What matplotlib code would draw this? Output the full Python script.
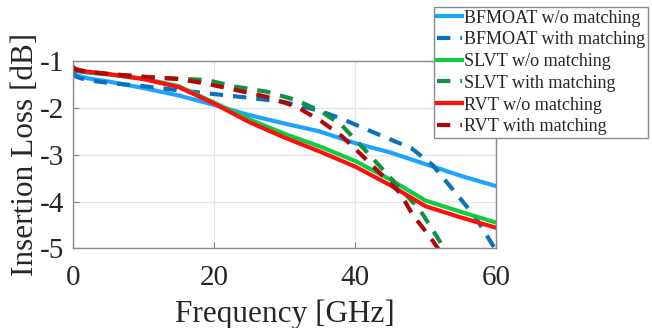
import matplotlib
matplotlib.use("Agg")
import matplotlib.pyplot as plt

plt.rcParams["font.family"] = ["Liberation Serif", "DejaVu Serif"]
plt.rcParams["axes.unicode_minus"] = False

# measured insertion loss, frequency in GHz, loss in dB
bfmoat_wo_f = [0, 0.5, 2, 5, 10, 15, 20, 25, 30, 35, 40, 45, 50, 55, 60]
bfmoat_wo_il = [-1.22, -1.30, -1.36, -1.43, -1.57, -1.73, -1.93, -2.15, -2.33, -2.50,
                -2.75, -2.95, -3.20, -3.45, -3.67]

bfmoat_w_f = [0, 0.5, 2, 5, 10, 15, 20, 25, 30, 35, 38, 42, 45, 48, 51, 54, 57, 60]
bfmoat_w_il = [-1.25, -1.33, -1.40, -1.46, -1.53, -1.62, -1.70, -1.78, -1.87, -2.06,
               -2.22, -2.48, -2.67, -2.86, -3.22, -3.77, -4.32, -5.05]

slvt_wo_f = [0, 0.5, 2, 5, 10, 15, 20, 25, 30, 35, 40, 45, 50, 55, 60]
slvt_wo_il = [-1.15, -1.20, -1.24, -1.28, -1.37, -1.53, -1.88, -2.24, -2.55, -2.82,
              -3.13, -3.53, -3.98, -4.22, -4.45]

slvt_w_f = [0, 0.5, 2, 5, 10, 15, 19, 23, 27.5, 31.7, 35.3, 38.2, 41.2, 43.8, 46.4,
            49.2, 51.6, 53]
slvt_w_il = [-1.15, -1.20, -1.23, -1.27, -1.33, -1.37, -1.40, -1.54, -1.65, -1.83,
             -2.08, -2.38, -2.86, -3.29, -3.72, -4.18, -4.75, -5.1]

rvt_wo_f = [0, 0.5, 2, 5, 10, 15, 20, 25, 30, 35, 40, 45, 50, 55, 60]
rvt_wo_il = [-1.12, -1.17, -1.22, -1.27, -1.38, -1.55, -1.90, -2.30, -2.63, -2.93,
             -3.25, -3.65, -4.10, -4.34, -4.56]

rvt_w_f = [0, 0.5, 2, 5, 10, 15, 18.7, 23, 27.5, 31.7, 35.3, 38.2, 40.9, 43.8, 46.4,
           48.2, 50.6, 52.2]
rvt_w_il = [-1.12, -1.18, -1.22, -1.27, -1.33, -1.38, -1.47, -1.61, -1.76, -1.97,
            -2.29, -2.61, -3.00, -3.43, -3.82, -4.29, -4.75, -5.1]

fig = plt.figure(figsize=(6.52, 3.28), dpi=100)
ax = fig.add_axes([0.1115, 0.243, 0.6495, 0.570])

dash = (3.2, 2.4)
lw = 3.0
ax.plot(bfmoat_wo_f, bfmoat_wo_il, color="#1ea4ff", lw=lw, label="BFMOAT w/o matching")
ax.plot(bfmoat_w_f, bfmoat_w_il, color="#0a72bd", lw=lw, dashes=dash,
        label="BFMOAT with matching")
ax.plot(slvt_wo_f, slvt_wo_il, color="#10cc40", lw=lw, label="SLVT w/o matching")
ax.plot(slvt_w_f, slvt_w_il, color="#119141", lw=lw, dashes=dash,
        label="SLVT with matching")
ax.plot(rvt_wo_f, rvt_wo_il, color="#ff1010", lw=lw, label="RVT w/o matching")
ax.plot(rvt_w_f, rvt_w_il, color="#b00808", lw=lw, dashes=dash,
        label="RVT with matching")

ax.set_xlim(0, 60)
ax.set_ylim(-5, -1)
ax.set_xticks([0, 20, 40, 60])
ax.set_yticks([-5, -4, -3, -2, -1])
ax.grid(True, color="#e4e4e4", lw=0.9)
ax.set_axisbelow(True)
ax.tick_params(direction="in", length=4, color="#808080", labelsize=21,
               labelcolor="#262626")
ax.tick_params(axis="x", pad=12)
ax.tick_params(axis="y", pad=6)
for s in ax.spines.values():
    s.set_color("#8a8a8a")
    s.set_linewidth(1.0)

ax.set_xlabel("Frequency [GHz]", fontsize=22.5, color="#262626", labelpad=6)
ax.set_ylabel("Insertion Loss [dB]", fontsize=22.5, color="#262626", labelpad=0)

leg = fig.legend(loc="upper left", bbox_to_anchor=(0.666, 0.979), fontsize=13.1,
                 handlelength=1.4, handletextpad=0.1, labelspacing=0.26,
                 borderpad=0.15, borderaxespad=0, fancybox=False, framealpha=1)
leg.get_frame().set_edgecolor("#8a8a8a")
leg.get_frame().set_linewidth(1.0)
for t in leg.get_texts():
    t.set_color("#262626")

fig.savefig("out.png", dpi=100)
